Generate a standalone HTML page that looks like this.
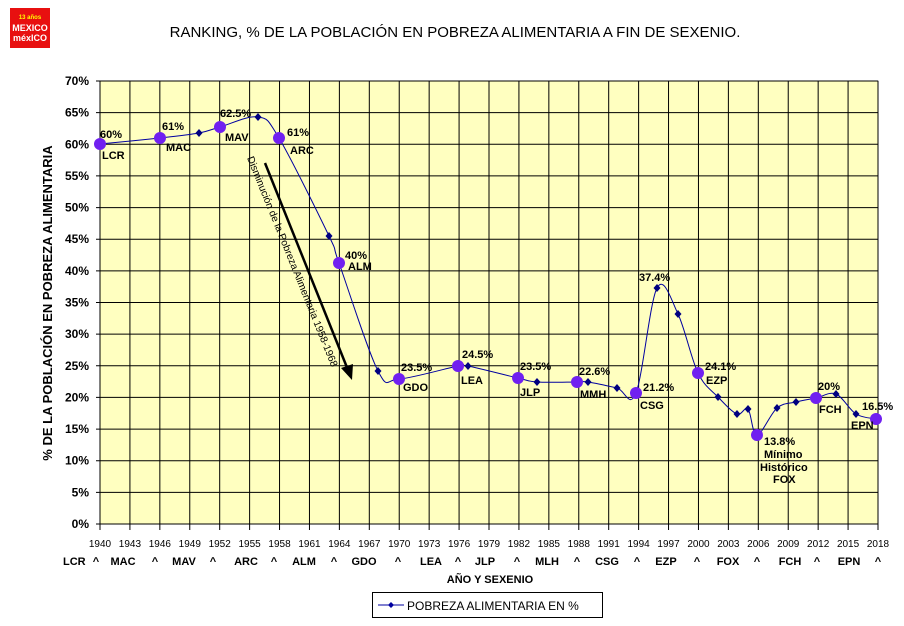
<!DOCTYPE html>
<html><head><meta charset="utf-8"><style>
html,body{margin:0;padding:0;background:#fff;width:904px;height:626px;overflow:hidden}
svg{display:block;font-family:"Liberation Sans",Arial,sans-serif}
</style></head><body>
<svg id="s" width="904" height="626" viewBox="0 0 904 626">
<rect x="10" y="8" width="40" height="40" fill="#e81010"/>
<text x="30" y="19" font-size="6" fill="#ff0" text-anchor="middle" font-weight="bold">13 años</text>
<text x="30" y="31" font-size="9" fill="#fff" text-anchor="middle" font-weight="bold">MEXICO</text>
<text x="30" y="41" font-size="9" fill="#fff" text-anchor="middle" font-weight="bold">m&#233;xICO</text>
<text x="455" y="37" font-size="15" text-anchor="middle">RANKING,  % DE LA POBLACIÓN EN POBREZA ALIMENTARIA A FIN DE SEXENIO.</text>
<rect x="100" y="81" width="778" height="443" fill="#ffffc0" stroke="#808080"/>
<g id="grid" stroke="#000" stroke-width="1"></g>
<g id="lbl" font-size="12" font-weight="bold"></g>
<text transform="translate(52,303) rotate(-90)" font-size="13" font-weight="bold" text-anchor="middle">% DE LA POBLACIÓN EN POBREZA ALIMENTARIA</text>
<line x1="265" y1="163" x2="348" y2="370" stroke="#000" stroke-width="2.5"/>
<polygon points="352,380 341,368 353,364" fill="#000"/>
<text transform="translate(247,158) rotate(68)" font-size="10.2">Disminución de la Pobreza Alimentaria 1958-1968</text>
<path id="curve" fill="none" stroke="#0000a0" stroke-width="1"/>
<g id="pts"></g>
<g font-size="11" font-weight="bold">
<text x="100" y="138">60%</text><text x="102" y="159">LCR</text>
<text x="162" y="130">61%</text><text x="166" y="151">MAC</text>
<text x="220" y="117">62.5%</text><text x="225" y="141">MAV</text>
<text x="287" y="136">61%</text><text x="290" y="154">ARC</text>
<text x="345" y="259">40%</text><text x="348" y="270">ALM</text>
<text x="401" y="371">23.5%</text><text x="403" y="391">GDO</text>
<text x="461" y="384">LEA</text><text x="462" y="358">24.5%</text>
<text x="520" y="370">23.5%</text><text x="520" y="396">JLP</text>
<text x="579" y="375">22.6%</text><text x="580" y="398">MMH</text>
<text x="643" y="391">21.2%</text><text x="640" y="409">CSG</text>
<text x="639" y="281">37.4%</text>
<text x="705" y="370">24.1%</text><text x="706" y="384">EZP</text>
<text x="764" y="445">13.8%</text><text x="764" y="458">Mínimo</text><text x="760" y="471">Histórico</text><text x="773" y="483">FOX</text>
<text x="818" y="390">20%</text><text x="819" y="413">FCH</text>
<text x="862" y="410">16.5%</text><text x="851" y="429">EPN</text>
</g>
<g font-size="11" font-weight="bold">
<text x="63" y="565">LCR</text>
</g>
<g id="sx" font-size="11" font-weight="bold" text-anchor="middle"></g>
<text x="490" y="583" font-size="11" font-weight="bold" text-anchor="middle">AÑO Y SEXENIO</text>
<rect x="372.5" y="592.5" width="230" height="25" fill="#fff" stroke="#000"/>
<line x1="378" y1="605" x2="404" y2="605" stroke="#0000a0"/>
<polygon points="391,602 394,605 391,608 388,605" fill="#0000a0"/>
<text x="407" y="610" font-size="12">POBREZA ALIMENTARIA EN %</text>
</svg>
<script>
var ns="http://www.w3.org/2000/svg";
function el(p,t,a,txt){var e=document.createElementNS(ns,t);for(var k in a)e.setAttribute(k,a[k]);if(txt!=null)e.textContent=txt;document.getElementById(p).appendChild(e);return e;}
var L=100,R=878,T=81,B=524,px=(R-L)/78;
for(var i=0;i<=26;i++){var x=L+i*3*px;el("grid","line",{x1:x,y1:T,x2:x,y2:B+6});
 el("lbl","text",{x:x,y:547,"font-size":10,"font-weight":"normal","text-anchor":"middle"},1940+3*i);}
for(var j=0;j<=14;j++){var y=B-j*(B-T)/14;el("grid","line",{x1:L-4,y1:y,x2:R,y2:y});
 el("lbl","text",{x:89,y:y+4,"text-anchor":"end"},(j*5)+"%");}
var sx=[[96,"^"],[123,"MAC"],[155,"^"],[184,"MAV"],[213,"^"],[246,"ARC"],[274,"^"],[304,"ALM"],[334,"^"],[364,"GDO"],[398,"^"],[431,"LEA"],[458,"^"],[485,"JLP"],[517,"^"],[547,"MLH"],[577,"^"],[607,"CSG"],[637,"^"],[666,"EZP"],[697,"^"],[728,"FOX"],[757,"^"],[790,"FCH"],[817,"^"],[849,"EPN"],[878,"^"]];
sx.forEach(function(s){el("sx","text",{x:s[0],y:565},s[1]);});
var P=[[100,144,1],[160,138,1],[199,133,0],[220,127,1],[258,117,0],[279,138,1],[329,236,0],[339,263,1],[378,371,0],[399,379,1],[458,366,1],[468,366,0],[518,378,1],[537,382,0],[577,382,1],[588,382,0],[617,388,0],[636,393,1],[657,288,0],[678,314,0],[698,373,1],[718,397,0],[737,414,0],[748,409,0],[757,435,1],[777,408,0],[796,402,0],[816,398,1],[836,394,0],[856,414,0],[876,419,1]];
var d="M"+P[0][0]+","+P[0][1];
for(var i=0;i<P.length-1;i++){var p0=P[Math.max(0,i-1)],p1=P[i],p2=P[i+1],p3=P[Math.min(P.length-1,i+2)];
 d+=" C"+(p1[0]+(p2[0]-p0[0])/6)+","+(p1[1]+(p2[1]-p0[1])/6)+" "+(p2[0]-(p3[0]-p1[0])/6)+","+(p2[1]-(p3[1]-p1[1])/6)+" "+p2[0]+","+p2[1];}
document.getElementById("curve").setAttribute("d",d);
P.forEach(function(p){if(p[2])el("pts","circle",{cx:p[0],cy:p[1],r:6,fill:"#7020f0"});
 else el("pts","polygon",{points:(p[0])+","+(p[1]-4)+" "+(p[0]+3.5)+","+p[1]+" "+p[0]+","+(p[1]+4)+" "+(p[0]-3.5)+","+p[1],fill:"#000080"});});
</script>
</body></html>
